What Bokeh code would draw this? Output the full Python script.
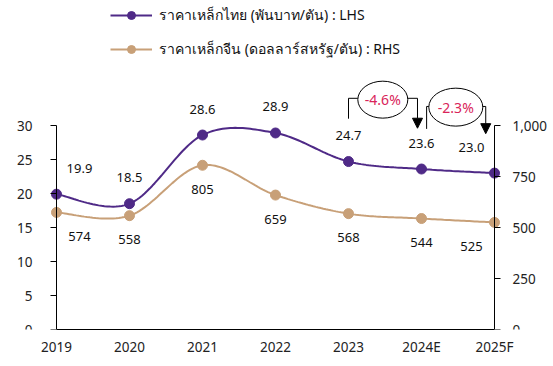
import numpy as np
from bokeh.plotting import figure
from bokeh.models import (Range1d, LinearAxis, FixedTicker, NumeralTickFormatter,
                          ColumnDataSource, LabelSet, Legend, LegendItem, Arrow,
                          NormalHead, Label)
from bokeh.core.properties import value
from bokeh.embed import file_html
from bokeh.resources import INLINE

# ---- data ----
categories = ["2019", "2020", "2021", "2022", "2023", "2024E", "2025F"]
thai_price = [19.9, 18.5, 28.6, 28.9, 24.7, 23.6, 23.0]      # LHS, thousand baht/ton
china_price = [574, 558, 805, 659, 568, 544, 525]            # RHS, USD/ton
left_ticks = [0, 5, 10, 15, 20, 25, 30]
right_ticks = [0, 250, 500, 750, 1000]
change_labels = ["-4.6%", "-2.3%"]                           # 2023->2024E, 2024E->2025F
legend_labels = ["ราคาเหล็กไทย (พันบาท/ตัน) : LHS",
                 "ราคาเหล็กจีน (ดอลลาร์สหรัฐ/ตัน) : RHS"]

# ---- style ----
PURPLE = "#4F2A87"
TAN = "#C8A078"
RED = "#D9245A"
FONT = "Noto Sans"
TXT = "#111111"

W, H = 552, 365
PX_X = 73.0          # pixels per category step
PX_Y = 6.8           # pixels per LHS unit
LEFT_PX, FRAME_BOTTOM = 56, 329
RIGHT_PX = W - LEFT_PX - PX_X * 6
frame_h = FRAME_BOTTOM
y_top = frame_h / PX_Y
n = len(categories)


def smooth(xs, ys, steps=30):
    pts = np.column_stack([xs, ys]).astype(float)
    ext = np.vstack([pts[0], pts, pts[-1]])
    out = []
    t = np.linspace(0, 1, steps)[:, None]
    for i in range(len(pts) - 1):
        p0, p1, p2, p3 = ext[i], ext[i + 1], ext[i + 2], ext[i + 3]
        c1 = p1 + (p2 - p0) / 6
        c2 = p2 - (p3 - p1) / 6
        seg = (1 - t) ** 3 * p1 + 3 * (1 - t) ** 2 * t * c1 + 3 * (1 - t) * t ** 2 * c2 + t ** 3 * p2
        out.append(seg if i == 0 else seg[1:])
    s = np.vstack(out)
    return s[:, 0], s[:, 1]


p = figure(width=W, height=H, output_backend="svg", toolbar_location=None,
           x_range=Range1d(-LEFT_PX / PX_X, (n - 1) + RIGHT_PX / PX_X),
           y_range=Range1d(0, y_top),
           x_axis_location=None, y_axis_location=None,
           min_border_left=0, min_border_right=0, min_border_top=0,
           min_border_bottom=H - FRAME_BOTTOM)
p.extra_y_ranges = {"r": Range1d(0, y_top / left_ticks[-1] * right_ticks[-1])}
p.outline_line_color = None
p.xgrid.visible = False
p.ygrid.visible = False
p.background_fill_color = "white"
p.border_fill_color = "white"


def style_axis(ax, tick_out, standoff):
    ax.axis_line_color = "black"
    ax.axis_line_width = 1
    ax.major_tick_line_color = "black"
    ax.major_tick_out = tick_out
    ax.major_tick_in = 0
    ax.minor_tick_line_color = None
    ax.major_label_text_font = FONT
    ax.major_label_text_font_size = "13.5px"
    ax.major_label_text_font_style = "normal"
    ax.major_label_text_color = "#222222"
    ax.major_label_standoff = standoff


ly = LinearAxis(fixed_location=0, bounds=(0, left_ticks[-1]), ticker=FixedTicker(ticks=left_ticks))
style_axis(ly, 6, 18)
p.add_layout(ly, "left")

ry = LinearAxis(y_range_name="r", fixed_location=n - 1, bounds=(0, right_ticks[-1]),
                ticker=FixedTicker(ticks=right_ticks), formatter=NumeralTickFormatter(format="0,0"))
style_axis(ry, 6, 12)
p.add_layout(ry, "right")

bx = LinearAxis(bounds=(0, n - 1), ticker=FixedTicker(ticks=list(range(n))),
                major_label_overrides={i: c for i, c in enumerate(categories)})
style_axis(bx, 0, 8)
bx.major_tick_line_color = None
p.add_layout(bx, "below")

xs = np.arange(n)
cx, cy = smooth(xs, china_price)
tx, ty = smooth(xs, thai_price)

l2 = p.line(cx, cy, y_range_name="r", line_color=TAN, line_width=2)
s2 = p.scatter(xs, china_price, y_range_name="r", size=10, fill_color=TAN, line_color=TAN)
l1 = p.line(tx, ty, line_color=PURPLE, line_width=2)
s1 = p.scatter(xs, thai_price, size=10, fill_color=PURPLE, line_color=PURPLE)

edge = [23, 0, 0, 0, 0, 0, -23]
thai_src = ColumnDataSource(dict(x=xs, y=thai_price, t=[f"{v:.1f}" for v in thai_price], dx=edge))
china_src = ColumnDataSource(dict(x=xs, y=china_price, t=[f"{v:,}" for v in china_price], dx=edge))
for src, off, rng in ((thai_src, 26, "default"), (china_src, -24, "r")):
    p.add_layout(LabelSet(x="x", y="y", text="t", source=src, x_offset="dx", y_offset=off,
                          y_range_name=rng, text_align="center", text_baseline="middle",
                          text_font=value(FONT), text_font_size="13px", text_color=TXT))

# ---- change annotations (ellipse + bracket arrows) ----
ell_x = [4.47, 5.47]
ell_y = [33.8, 32.7]
ell_w = [50, 54]
ell_h = [37, 38]
p.ellipse(x=ell_x, y=ell_y, width=ell_w, height=ell_h, width_units="screen",
          height_units="screen", fill_color=None, line_color="black", line_width=1)
for i, lab in enumerate(change_labels):
    p.add_layout(Label(x=ell_x[i], y=ell_y[i], text=lab, text_align="center",
                       text_baseline="middle", text_font=FONT, text_font_size="14px",
                       text_color=RED))

hw = [w / 2 / PX_X for w in ell_w]
left_x = [4.0, 5.07]
right_x = [4.945, 5.88]
bar_y = [34.0, 32.8]
left_bottom = [31.0, 29.5]
tip_y = [29.6, 28.8]
p.multi_line(
    xs=[[left_x[0], left_x[0], ell_x[0] - hw[0]], [ell_x[0] + hw[0], right_x[0]],
        [left_x[1], left_x[1], ell_x[1] - hw[1]], [ell_x[1] + hw[1], right_x[1]]],
    ys=[[left_bottom[0], bar_y[0], bar_y[0]], [bar_y[0], bar_y[0]],
        [left_bottom[1], bar_y[1], bar_y[1]], [bar_y[1], bar_y[1]]],
    line_color="black", line_width=1)
for i in range(2):
    p.add_layout(Arrow(end=NormalHead(size=10, fill_color="black", line_color="black"),
                       x_start=right_x[i], y_start=bar_y[i], x_end=right_x[i], y_end=tip_y[i],
                       line_color="black", line_width=1))

legend = Legend(items=[LegendItem(label=legend_labels[0], renderers=[l1, s1]),
                       LegendItem(label=legend_labels[1], renderers=[l2, s2])],
                location=(110, frame_h - 60), orientation="vertical",
                border_line_color=None, background_fill_alpha=0, padding=0, margin=0,
                spacing=12, glyph_width=42, glyph_height=20, label_height=20,
                label_standoff=7, label_text_font=FONT, label_text_font_size="14px",
                label_text_color=TXT)
p.add_layout(legend)

open("out.html", "w").write(file_html(p, INLINE))
